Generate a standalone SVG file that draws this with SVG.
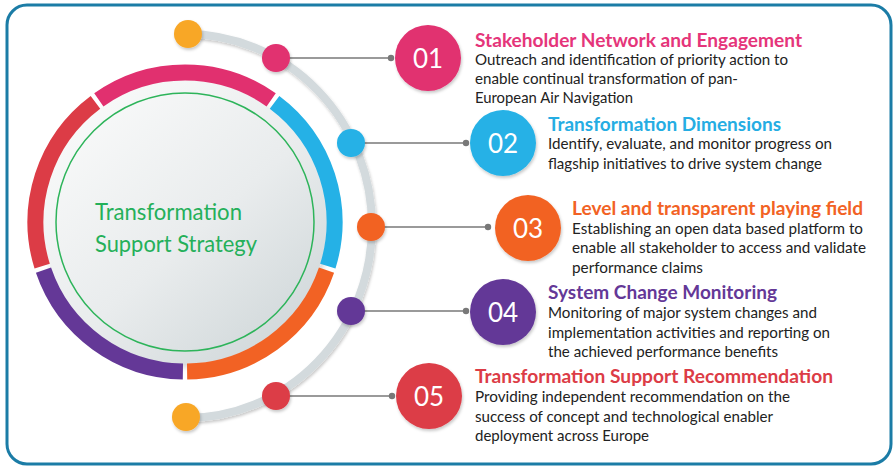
<svg xmlns="http://www.w3.org/2000/svg" width="894" height="467" viewBox="0 0 894 467">
  <defs>
    <linearGradient id="disk" x1="0.15" y1="0.1" x2="0.85" y2="0.9">
      <stop offset="0" stop-color="#f8f9f9"/>
      <stop offset="0.55" stop-color="#e9eced"/>
      <stop offset="1" stop-color="#d2d9db"/>
    </linearGradient>
    <filter id="sh" x="-30%" y="-30%" width="160%" height="160%">
      <feDropShadow dx="1" dy="2" stdDeviation="1.5" flood-color="#000" flood-opacity="0.22"/>
    </filter>
    <filter id="shd" x="-10%" y="-10%" width="120%" height="120%">
      <feDropShadow dx="2" dy="3" stdDeviation="3" flood-color="#000" flood-opacity="0.18"/>
    </filter>
  </defs>
  <style>
    .seg{fill:none;stroke-width:16}
    .num{font-family:Lato,"Open Sans",sans-serif;font-size:26px;fill:#fff;text-anchor:middle}
    .ttl{font-family:Lato,"Open Sans",sans-serif;font-size:18px;font-weight:bold}
    .body{font-family:Lato,"Open Sans",sans-serif;font-size:15px;fill:#222}
    .ctr{font-family:Lato,"Open Sans",sans-serif;font-size:23px;fill:#25b05a}
    .conn{stroke:#787878;stroke-width:1.6;fill:none}
    .cdot{fill:#787878}
  </style>

  <rect x="7" y="5" width="884" height="459" rx="20" fill="#fff" stroke="#1b7ca6" stroke-width="3"/>

  <g id="track">
    <path d="M186,34 A186,192 0 0 1 186,418" fill="none" stroke="#d3dadd" stroke-width="8" filter="url(#sh)"/>
    <circle cx="188" cy="34" r="14" fill="#f8a727" filter="url(#sh)"/>
    <circle cx="186" cy="417" r="14" fill="#f8a727" filter="url(#sh)"/>
  </g>

  <g id="connectors">
    <line class="conn" x1="285" y1="58" x2="391" y2="58"/>
    <circle class="cdot" cx="391" cy="58" r="3.2"/>
    <line class="conn" x1="360" y1="143" x2="466" y2="143"/>
    <circle class="cdot" cx="466" cy="143" r="3.2"/>
    <line class="conn" x1="380" y1="227" x2="488" y2="227"/>
    <circle class="cdot" cx="488" cy="227" r="3.2"/>
    <line class="conn" x1="360" y1="311" x2="466" y2="311"/>
    <circle class="cdot" cx="466" cy="311" r="3.2"/>
    <line class="conn" x1="285" y1="396" x2="392" y2="396"/>
    <circle class="cdot" cx="392" cy="396" r="3.2"/>
  </g>

  <g id="center">
    <circle cx="185" cy="222" r="142" fill="url(#disk)" filter="url(#shd)"/>
    <circle cx="185" cy="222" r="129" fill="none" stroke="#2db45a" stroke-width="1.5"/>
    <path class="seg" stroke="#e1306f" d="M98.83,99.84 A149.5,149.5 0 0 1 271.17,99.84"/>
    <path class="seg" stroke="#25b1e6" d="M274.55,102.30 A149.5,149.5 0 0 1 327.82,266.21"/>
    <path class="seg" stroke="#f26224" d="M326.52,270.18 A149.5,149.5 0 0 1 187.09,371.49"/>
    <path class="seg" stroke="#643897" d="M182.91,371.49 A149.5,149.5 0 0 1 43.48,270.18"/>
    <path class="seg" stroke="#dc3c46" d="M42.18,266.21 A149.5,149.5 0 0 1 95.45,102.30"/>
    <text class="ctr" x="95" y="220" textLength="147" lengthAdjust="spacingAndGlyphs">Transformation</text>
    <text class="ctr" x="95" y="252" textLength="162" lengthAdjust="spacingAndGlyphs">Support Strategy</text>
  </g>

  <g id="item1">
    <circle cx="276" cy="58" r="14" fill="#e1306f" filter="url(#sh)"/>
    <circle cx="428" cy="58" r="33" fill="#e1306f" filter="url(#sh)"/>
    <text class="num" x="428" y="67.5">01</text>
    <text class="ttl" fill="#e5357a" x="475" y="47" textLength="327" lengthAdjust="spacingAndGlyphs">Stakeholder Network and Engagement</text>
    <text class="body" x="475" y="65" textLength="313" lengthAdjust="spacingAndGlyphs">Outreach and identification of priority action to</text>
    <text class="body" x="475" y="84" textLength="263" lengthAdjust="spacingAndGlyphs">enable continual transformation of pan-</text>
    <text class="body" x="475" y="103" textLength="158" lengthAdjust="spacingAndGlyphs">European Air Navigation</text>
  </g>

  <g id="item2">
    <circle cx="351" cy="143" r="14" fill="#25b1e6" filter="url(#sh)"/>
    <circle cx="503" cy="143" r="33" fill="#25b1e6" filter="url(#sh)"/>
    <text class="num" x="503" y="152.5">02</text>
    <text class="ttl" fill="#25ade3" x="548" y="131" textLength="233" lengthAdjust="spacingAndGlyphs">Transformation Dimensions</text>
    <text class="body" x="548" y="149" textLength="284" lengthAdjust="spacingAndGlyphs">Identify, evaluate, and monitor progress on</text>
    <text class="body" x="548" y="169" textLength="274" lengthAdjust="spacingAndGlyphs">flagship initiatives to drive system change</text>
  </g>

  <g id="item3">
    <circle cx="371" cy="227" r="14" fill="#f26224" filter="url(#sh)"/>
    <circle cx="528" cy="228" r="33" fill="#f26224" filter="url(#sh)"/>
    <text class="num" x="528" y="237.5">03</text>
    <text class="ttl" fill="#f26224" x="572" y="215" textLength="291" lengthAdjust="spacingAndGlyphs">Level and transparent playing field</text>
    <text class="body" x="572" y="234" textLength="291" lengthAdjust="spacingAndGlyphs">Establishing an open data based platform to</text>
    <text class="body" x="572" y="253" textLength="294" lengthAdjust="spacingAndGlyphs">enable all stakeholder to access and validate</text>
    <text class="body" x="572" y="273" textLength="131" lengthAdjust="spacingAndGlyphs">performance claims</text>
  </g>

  <g id="item4">
    <circle cx="351" cy="311" r="14" fill="#643897" filter="url(#sh)"/>
    <circle cx="503" cy="312" r="33" fill="#643897" filter="url(#sh)"/>
    <text class="num" x="503" y="321.5">04</text>
    <text class="ttl" fill="#643897" x="548" y="299" textLength="229" lengthAdjust="spacingAndGlyphs">System Change Monitoring</text>
    <text class="body" x="548" y="318" textLength="269" lengthAdjust="spacingAndGlyphs">Monitoring of major system changes and</text>
    <text class="body" x="548" y="338" textLength="282" lengthAdjust="spacingAndGlyphs">implementation activities and reporting on</text>
    <text class="body" x="548" y="357" textLength="230" lengthAdjust="spacingAndGlyphs">the achieved performance benefits</text>
  </g>

  <g id="item5">
    <circle cx="276" cy="396" r="14" fill="#dc3c46" filter="url(#sh)"/>
    <circle cx="429" cy="396" r="33" fill="#dc3c46" filter="url(#sh)"/>
    <text class="num" x="429" y="405.5">05</text>
    <text class="ttl" fill="#dc3c46" x="475" y="383" textLength="358" lengthAdjust="spacingAndGlyphs">Transformation Support Recommendation</text>
    <text class="body" x="475" y="402" textLength="315" lengthAdjust="spacingAndGlyphs">Providing independent recommendation on the</text>
    <text class="body" x="475" y="422" textLength="298" lengthAdjust="spacingAndGlyphs">success of concept and technological enabler</text>
    <text class="body" x="475" y="441" textLength="174" lengthAdjust="spacingAndGlyphs">deployment across Europe</text>
  </g>
</svg>
